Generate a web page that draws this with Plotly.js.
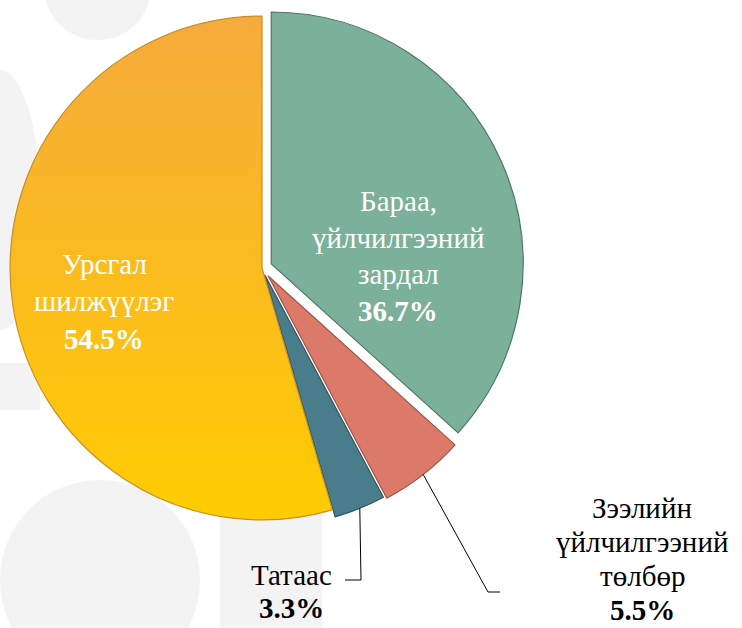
<!DOCTYPE html>
<html>
<head>
<meta charset="utf-8">
<script src="https://cdn.plot.ly/plotly-3.0.1.min.js"></script>
<style>
  body { margin: 0; background: #fff; }
  #chart { width: 742px; height: 628px; position: relative; z-index: 1; }
  #fontwarm { position: absolute; left: 10px; top: 10px; z-index: 0; color: #fff; font-family: "Liberation Serif"; font-size: 29px; }
</style>
</head>
<body>
<div id="fontwarm">Урсгал 36.7% <b>54.5%</b></div>
<div id="chart"></div>
<script>
// slices, clockwise from 12 o'clock
const names = ["Бараа, үйлчилгээний зардал", "Зээлийн үйлчилгээний төлбөр", "Татаас", "Урсгал шилжүүлэг"];
const nameLines = [
  ["Бараа,", "үйлчилгээний", "зардал"],
  ["Зээлийн", "үйлчилгээний", "төлбөр"],
  ["Татаас"],
  ["Урсгал", "шилжүүлэг"]
];
const shares = [36.7, 5.5, 3.3, 54.5];

const colors = ["#7bb09a", "#dc7a69", "#4a7d8c", "#fbbb2a"];
const edgeColors = ["#4f7566", "#9c5649", "#2e5561", "#c98f22"];
const pulls = [0.04, 0.04, 0.03, 0];

const W = 742, H = 628;
const cx = 262, cy = 268, half = 262;
const serif = "Liberation Serif";

// label block centres (px), line spacing and colours
const labelPos = [[398, 256], [642, 559], [291, 591], [104, 301]];
const lineGap = [36.7, 34, 33, 37.5];
const labelColor = ["#ffffff", "#000000", "#000000", "#ffffff"];
// elbow points of the leader lines for the outside labels
const elbows = { 1: [[488, 592], [500, 592]], 2: [[361, 580], [345, 580]] };

const px = (x) => x / W;
const py = (y) => 1 - y / H;

const total = shares.reduce((a, b) => a + b, 0);
const r = half / (1 + Math.max(...pulls));
let cum = 0;
const mids = shares.map((v) => {
  const m = ((cum + v / 2) / total) * 2 * Math.PI;
  cum += v;
  return m;
});

// one annotation per text line so the spacing can follow the picture
const annotations = [];
shares.forEach((v, i) => {
  const lines = nameLines[i].concat(["<b>" + v.toFixed(1) + "%</b>"]);
  lines.forEach((t, j) => {
    const y = labelPos[i][1] + (j - (lines.length - 1) / 2) * lineGap[i];
    annotations.push({
      xref: "paper", yref: "paper",
      x: px(labelPos[i][0]), y: py(y),
      xanchor: "center", yanchor: "middle",
      showarrow: false,
      text: t,
      font: { family: serif, size: 29, color: labelColor[i] }
    });
  });
});

// leader lines from slice edge to the outside labels
const shapes = [];
Object.keys(elbows).forEach((k) => {
  const i = +k;
  const d = r * (1 + pulls[i]);
  const sx = cx + d * Math.sin(mids[i]);
  const sy = cy - d * Math.cos(mids[i]);
  const pts = [[sx, sy]].concat(elbows[i]);
  shapes.push({
    type: "path", xref: "paper", yref: "paper", layer: "above",
    path: pts.map((p, j) => (j ? "L" : "M") + px(p[0]) + "," + py(p[1])).join(" "),
    line: { color: "#000", width: 1 }
  });
});

// faint watermark behind the pie
const wm = "#f3f3f3";
const bg = [
  { type: "rect", x0: 220, x1: 322, y0: 380, y1: 628, fill: wm },
  { type: "circle", x0: 0, x1: 200, y0: 480, y1: 680, fill: wm },
  { type: "circle", x0: 78, x1: 112, y0: 488, y1: 522, fill: "#ffffff" },
  { type: "circle", x0: 68, x1: 102, y0: 596, y1: 630, fill: "#ffffff" },
  { type: "circle", x0: 45, x1: 150, y0: -60, y1: 40, fill: wm },
  { type: "rect", x0: 0, x1: 40, y0: 363, y1: 410, fill: wm },
  { type: "circle", x0: -40, x1: 40, y0: 70, y1: 330, fill: wm }
];
bg.forEach((s) => {
  shapes.unshift({
    type: s.type, xref: "paper", yref: "paper", layer: "below",
    x0: px(s.x0), x1: px(s.x1), y0: py(s.y1), y1: py(s.y0),
    fillcolor: s.fill, line: { width: 0 }
  });
});

const trace = {
  type: "pie",
  labels: names,
  values: shares,
  sort: false,
  direction: "clockwise",
  rotation: 0,
  pull: pulls,
  textinfo: "none",
  hoverinfo: "skip",
  showlegend: false,
  marker: { colors: colors, line: { color: edgeColors, width: 1.2 } },
  domain: { x: [px(cx - half), px(cx + half)], y: [py(cy + half), py(cy - half)] }
};

const layout = {
  width: W,
  height: H,
  margin: { l: 0, r: 0, t: 0, b: 0 },
  paper_bgcolor: "#ffffff",
  font: { family: serif },
  showlegend: false,
  annotations: annotations,
  shapes: shapes
};

function finish(gd) {
  // orange-to-yellow shading on the big slice
  const svg = gd.querySelector(".main-svg");
  const ns = "http://www.w3.org/2000/svg";
  const defs = svg.querySelector("defs");
  const grad = document.createElementNS(ns, "linearGradient");
  grad.setAttribute("id", "yellowGrad");
  grad.setAttribute("x1", "0"); grad.setAttribute("y1", "0");
  grad.setAttribute("x2", "0"); grad.setAttribute("y2", "1");
  [["0", "#f5ab3c"], ["1", "#ffcc02"]].forEach(([o, c]) => {
    const st = document.createElementNS(ns, "stop");
    st.setAttribute("offset", o);
    st.setAttribute("stop-color", c);
    grad.appendChild(st);
  });
  defs.appendChild(grad);
  const paths = gd.querySelectorAll(".slice path.surface");
  if (paths[3]) paths[3].style.fill = "url(#yellowGrad)";

  // make sure the labels use the serif face
  gd.querySelectorAll(".annotation-text").forEach((t) => {
    t.style.fontFamily = '"Liberation Serif", "Times New Roman", serif';
  });
  requestAnimationFrame(() => {
    const warm = document.getElementById("fontwarm");
    if (warm) warm.remove();
  });
}

Plotly.newPlot("chart", [trace], layout, { displayModeBar: false }).then(finish);
</script>
</body>
</html>
